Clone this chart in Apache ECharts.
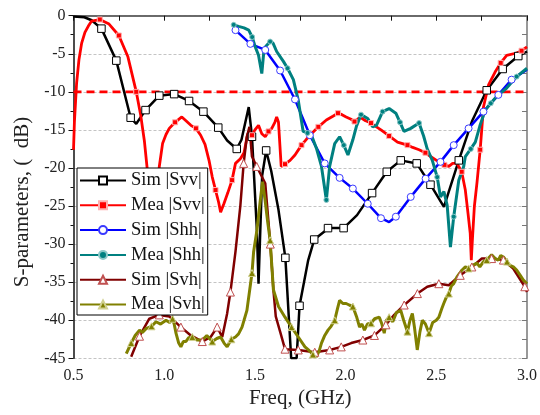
<!DOCTYPE html>
<html>
<head>
<meta charset="utf-8">
<script src="https://cdn.jsdelivr.net/npm/echarts@6/dist/echarts.min.js"></script>
<style>
  html, body { margin: 0; padding: 0; background: #fff; }
  #chart { width: 540px; height: 415px; }
</style>
</head>
<body>
<div id="chart"></div>
<script>
// S-parameter curves, [freq GHz, dB]
var seriesNames = ["Sim |Svv|", "Mea |Svv|", "Sim |Shh|", "Mea |Shh|", "Sim |Svh|", "Mea |Svh|"];
var xTicks = [0.5, 3.0, 0.5];   // min, max, step
var yTicks = [-45, 0, 5];
var refLevel = -10;

var simSvv = [
  [0.50, -0.1], [0.56, -0.2], [0.60, -0.6], [0.654, -1.7], [0.736, -5.9], [0.815, -13.4],
  [0.846, -14.2], [0.897, -12.4], [0.973, -10.5], [1.055, -10.3], [1.137, -11.2], [1.216, -12.6],
  [1.298, -14.7], [1.347, -16.4], [1.40, -17.5], [1.426, -16.3], [1.466, -12.0], [1.484, -15.9],
  [1.511, -28.2], [1.52, -35.2], [1.53, -28.0], [1.54, -21.0], [1.562, -17.7], [1.59, -20.4],
  [1.63, -25.5], [1.668, -31.8], [1.70, -45.0], [1.73, -45.0], [1.746, -38.1], [1.794, -32.1],
  [1.827, -29.4], [1.885, -28.3], [1.903, -27.9], [1.989, -27.9], [2.063, -26.2], [2.146, -23.3],
  [2.227, -20.5], [2.304, -19.0], [2.392, -19.4], [2.468, -22.2], [2.542, -25.1], [2.624, -19.0],
  [2.696, -13.9], [2.778, -9.8], [2.866, -7.0], [2.952, -5.3], [3.0, -4.7]
];

var meaSvv = [
  [0.50, -17.6], [0.505, -14.0], [0.517, -8.9], [0.53, -5.8], [0.545, -3.6], [0.563, -2.2],
  [0.581, -1.4], [0.60, -0.7], [0.645, -0.5], [0.696, -1.1], [0.75, -2.6], [0.80, -5.4],
  [0.846, -10.0], [0.87, -13.0], [0.891, -16.5], [0.905, -19.8], [0.92, -23.5], [0.94, -28.0],
  [0.96, -24.0], [0.973, -19.8], [0.991, -16.8], [1.01, -15.6], [1.028, -14.8], [1.06, -14.0],
  [1.097, -13.3], [1.12, -13.8], [1.147, -14.4], [1.175, -14.8], [1.201, -15.7], [1.225, -16.9],
  [1.247, -19.0], [1.265, -21.2], [1.283, -22.9], [1.30, -24.5], [1.311, -25.8], [1.329, -24.7],
  [1.35, -23.3], [1.374, -21.6], [1.393, -19.4], [1.42, -18.8], [1.44, -18.0], [1.46, -15.5],
  [1.484, -15.7], [1.50, -15.0], [1.52, -14.4], [1.538, -15.5], [1.557, -15.9], [1.575, -15.2],
  [1.593, -14.8], [1.61, -14.0], [1.62, -13.3], [1.63, -14.0], [1.645, -19.8], [1.666, -19.5],
  [1.694, -19.0], [1.721, -18.3], [1.757, -17.0], [1.785, -16.2], [1.812, -15.5], [1.85, -14.6],
  [1.894, -13.7], [1.93, -13.2], [1.958, -12.8], [1.98, -13.0], [2.003, -13.3], [2.03, -13.6],
  [2.049, -13.9], [2.07, -13.5], [2.085, -13.4], [2.11, -13.8], [2.14, -14.1], [2.17, -14.6],
  [2.195, -15.0], [2.24, -15.8], [2.286, -16.6], [2.341, -17.0], [2.37, -17.3], [2.405, -17.6],
  [2.44, -18.0], [2.468, -18.5], [2.514, -19.2], [2.545, -19.6], [2.569, -19.8], [2.59, -19.4],
  [2.614, -19.4], [2.64, -20.5], [2.66, -22.9], [2.675, -26.0], [2.687, -28.6], [2.693, -32.1],
  [2.70, -29.0], [2.71, -25.0], [2.724, -22.0], [2.742, -17.6], [2.76, -12.0], [2.788, -9.1],
  [2.824, -7.4], [2.855, -6.2], [2.888, -5.2], [2.943, -4.9], [2.97, -4.6], [3.0, -4.1]
];

var simShh = [
  [1.393, -1.9], [1.475, -3.7], [1.557, -4.5], [1.639, -7.2], [1.721, -11.0], [1.803, -15.7],
  [1.885, -19.4], [1.967, -21.3], [2.04, -22.7], [2.122, -24.7], [2.195, -26.6], [2.24, -27.1],
  [2.277, -26.4], [2.359, -23.8], [2.441, -21.4], [2.523, -19.2], [2.596, -17.0], [2.678, -14.8],
  [2.76, -12.6], [2.842, -10.4], [2.915, -8.4], [3.0, -7.1]
];

var meaShh = [
  [1.383, -1.2], [1.41, -1.4], [1.44, -1.6], [1.466, -1.9], [1.485, -2.8], [1.502, -4.1],
  [1.52, -5.2], [1.538, -7.6], [1.548, -5.0], [1.557, -4.1], [1.584, -3.4], [1.60, -3.6],
  [1.62, -4.7], [1.657, -6.0], [1.68, -6.9], [1.712, -8.4], [1.739, -11.1], [1.766, -15.2],
  [1.79, -15.4], [1.812, -15.7], [1.839, -17.4], [1.867, -19.8], [1.894, -24.2], [1.912, -19.8],
  [1.94, -16.8], [1.967, -15.9], [1.99, -17.0], [2.013, -18.3], [2.04, -16.3], [2.06, -14.5],
  [2.085, -13.0], [2.122, -13.5], [2.149, -14.6], [2.17, -14.4], [2.204, -12.6], [2.24, -12.2],
  [2.277, -12.8], [2.30, -14.0], [2.322, -15.2], [2.359, -14.8], [2.405, -14.1], [2.43, -15.8],
  [2.45, -17.5], [2.478, -19.0], [2.505, -21.2], [2.523, -23.8], [2.542, -23.1], [2.56, -24.9],
  [2.578, -30.4], [2.596, -26.4], [2.624, -21.6], [2.651, -19.8], [2.66, -18.5], [2.69, -17.5],
  [2.715, -16.6], [2.74, -14.5], [2.77, -12.4], [2.80, -11.5], [2.833, -10.6], [2.888, -9.5],
  [2.943, -8.0], [3.0, -6.9]
];

var simSvh = [
  [0.818, -44.8], [0.864, -42.1], [0.918, -39.8], [0.973, -39.3], [1.028, -39.5], [1.092, -40.9],
  [1.147, -42.0], [1.21, -42.8], [1.256, -42.2], [1.292, -40.9], [1.32, -42.2], [1.347, -39.1],
  [1.365, -36.3], [1.393, -31.0], [1.42, -24.9], [1.438, -19.4], [1.455, -16.0], [1.47, -14.6],
  [1.484, -18.5], [1.51, -19.8], [1.557, -22.0], [1.585, -30.0], [1.602, -36.0], [1.615, -39.5],
  [1.639, -41.5], [1.666, -43.8], [1.739, -43.9], [1.83, -44.2], [1.912, -43.9], [1.976, -43.5],
  [2.031, -43.0], [2.095, -42.6], [2.159, -42.0], [2.222, -40.6], [2.268, -39.3], [2.323, -38.0],
  [2.396, -36.5], [2.45, -35.6], [2.514, -35.2], [2.569, -35.4], [2.632, -34.1], [2.696, -33.0],
  [2.751, -31.9], [2.805, -31.9], [2.87, -32.1], [2.924, -33.2], [2.988, -35.6], [3.0, -36.3]
];

var meaSvh = [
  [0.791, -44.4], [0.818, -43.0], [0.84, -42.0], [0.864, -41.3], [0.88, -41.6], [0.90, -41.1],
  [0.93, -40.8], [0.955, -40.2], [0.98, -40.5], [1.01, -40.0], [1.03, -40.3], [1.046, -39.8],
  [1.055, -40.5], [1.065, -41.7], [1.08, -43.0], [1.092, -43.5], [1.105, -42.8], [1.119, -42.8],
  [1.135, -42.3], [1.155, -42.2], [1.18, -42.6], [1.21, -42.6], [1.235, -42.0], [1.265, -42.8],
  [1.29, -42.4], [1.311, -42.2], [1.33, -43.0], [1.347, -43.5], [1.37, -42.5], [1.393, -42.2],
  [1.41, -41.8], [1.429, -40.9], [1.456, -38.7], [1.484, -33.8], [1.493, -31.0], [1.511, -28.2],
  [1.53, -24.2], [1.542, -21.8], [1.555, -24.0], [1.57, -27.0], [1.584, -29.5], [1.602, -36.0],
  [1.63, -38.2], [1.666, -39.6], [1.702, -40.9], [1.739, -42.2], [1.776, -43.5], [1.80, -44.0],
  [1.82, -44.5], [1.839, -44.8], [1.855, -44.0], [1.867, -43.0], [1.885, -42.0], [1.903, -41.3],
  [1.92, -40.8], [1.94, -40.0], [1.955, -38.5], [1.967, -37.4], [1.985, -37.8], [2.003, -37.8],
  [2.02, -38.0], [2.04, -38.2], [2.06, -39.5], [2.077, -40.9], [2.09, -40.5], [2.104, -41.3],
  [2.12, -40.5], [2.14, -40.4], [2.16, -39.8], [2.186, -39.6], [2.20, -40.5], [2.213, -41.7],
  [2.225, -40.0], [2.24, -39.6], [2.26, -40.2], [2.28, -39.0], [2.304, -38.7], [2.32, -40.0],
  [2.341, -41.5], [2.355, -40.0], [2.368, -39.1], [2.38, -41.0], [2.395, -43.9], [2.41, -41.5],
  [2.423, -40.0], [2.44, -40.5], [2.46, -41.7], [2.48, -40.3], [2.50, -40.0], [2.514, -39.6],
  [2.53, -38.5], [2.541, -37.8], [2.555, -37.0], [2.569, -36.5], [2.583, -35.5], [2.596, -35.2],
  [2.614, -34.3], [2.63, -33.8], [2.642, -33.4], [2.66, -33.0], [2.678, -33.2], [2.70, -32.8],
  [2.724, -32.5], [2.74, -33.0], [2.76, -32.3], [2.778, -32.1], [2.805, -31.4], [2.825, -31.9],
  [2.842, -32.1], [2.855, -31.5], [2.87, -31.7], [2.89, -32.3], [2.906, -32.8], [2.925, -33.0],
  [2.943, -33.4], [2.96, -34.0], [2.979, -34.7], [3.0, -35.2]
];

var serif = '"Liberation Serif", "Times New Roman", serif';

// markers only every so often along a curve, like the original plot
function markEvery(data, step, size, skip) {
  var keep = {}, last = data[0][0] - step + (skip || 0);
  data.forEach(function (p, i) {
    if (i < data.length - 1 && p[0] - last >= step) { keep[i] = true; last = p[0]; }
  });
  return function (val, params) { return keep[params.dataIndex] ? size : 0; };
}

function curve(name, data, color, width, symbol, step, size, fill, border, skip) {
  return {
    name: name, type: "line", data: data,
    symbol: symbol, symbolSize: markEvery(data, step, size, skip),
    lineStyle: { color: color, width: width },
    itemStyle: { color: fill, borderColor: border, borderWidth: 1 },
    z: 3
  };
}

var chart = echarts.init(document.getElementById("chart"), null, { renderer: "canvas" });

var nameText = { color: "#222", fontFamily: serif, fontSize: 21 };

chart.setOption({
  animation: false,
  backgroundColor: "#fff",
  grid: { left: 73.5, right: 9, top: 15.7, bottom: 56.7 },
  legend: {
    data: seriesNames,
    orient: "vertical", left: 77, top: 168,
    itemWidth: 46, itemHeight: 10, itemGap: 5.8,
    padding: [3, 3, 1, 2],
    backgroundColor: "#fff", borderColor: "#000", borderWidth: 1,
    textStyle: { color: "#111", fontFamily: serif, fontSize: 18.5, lineHeight: 19 }
  },
  xAxis: [{
    type: "value", min: xTicks[0], max: xTicks[1], interval: xTicks[2], position: "bottom",
    name: "Freq, (GHz)", nameLocation: "middle", nameGap: 30, nameTextStyle: nameText,
    axisLine: { lineStyle: { color: "#111", width: 1.5 } },
    axisTick: { length: 5, lineStyle: { color: "#111" } },
    minorTick: { show: true, splitNumber: 2, length: 5, lineStyle: { color: "#111" } },
    axisLabel: { margin: 9, formatter: function (v) { return v.toFixed(1); }, color: "#222", fontFamily: serif, fontSize: 16 },
    splitLine: { show: false }
  }, {
    type: "value", min: xTicks[0], max: xTicks[1], position: "top",
    axisLine: { show: true, lineStyle: { color: "#777", width: 1.5 } },
    axisTick: { show: false }, axisLabel: { show: false }, splitLine: { show: false }
  }],
  yAxis: [{
    type: "value", min: yTicks[0], max: yTicks[1], interval: yTicks[2], position: "left",
    name: "S-parameters, (  dB)", nameLocation: "middle", nameGap: 41,
    nameTextStyle: { color: "#222", fontFamily: serif, fontSize: 21, padding: [0, 30, 0, 0] },
    axisLine: { show: true, lineStyle: { color: "#111", width: 1.5 } },
    axisTick: { show: true, length: 5, lineStyle: { color: "#111" } },
    minorTick: { show: true, splitNumber: 2, length: 3, lineStyle: { color: "#111" } },
    axisLabel: { margin: 8, color: "#222", fontFamily: serif, fontSize: 16 },
    splitLine: { show: true, lineStyle: { color: "#c4c4c4", width: 1, type: [3, 2] } }
  }, {
    type: "value", min: yTicks[0], max: yTicks[1], interval: yTicks[2], position: "right",
    axisLine: { show: true, lineStyle: { color: "#777", width: 1.5 } },
    axisTick: { show: true, inside: true, length: 5, lineStyle: { color: "#777" } },
    minorTick: { show: true, splitNumber: 2, length: 5, lineStyle: { color: "#777" } },
    axisLabel: { show: false }, splitLine: { show: false }
  }],
  series: [
    {
      name: "ref", type: "line", silent: true, symbol: "none", z: 2,
      data: [[xTicks[0], refLevel], [xTicks[1], refLevel]],
      lineStyle: { color: "#ff0000", width: 2.8, type: [8, 5] }
    },
    curve(seriesNames[0], simSvv, "#000000", 2.5, "rect", 0.075, 7.5, "#ffffff", "#000000", 0.15),
    curve(seriesNames[1], meaSvv, "#ff0000", 2.8, "rect", 0.09, 5, "#ff0000", "#ffb0b0", 0.1),
    curve(seriesNames[2], simShh, "#0000ff", 2.5, "circle", 0.07, 7, "#ffffff", "#3a3aff"),
    curve(seriesNames[3], meaShh, "#008080", 3, "circle", 0.09, 5, "#008080", "#8cc8c8"),
    curve(seriesNames[4], simSvh, "#800000", 2.5, "triangle", 0.06, 8, "#ffffff", "#c05050"),
    curve(seriesNames[5], meaSvh, "#808000", 3, "triangle", 0.1, 7, "#808000", "#d0d090")
  ]
});
</script>
</body>
</html>
